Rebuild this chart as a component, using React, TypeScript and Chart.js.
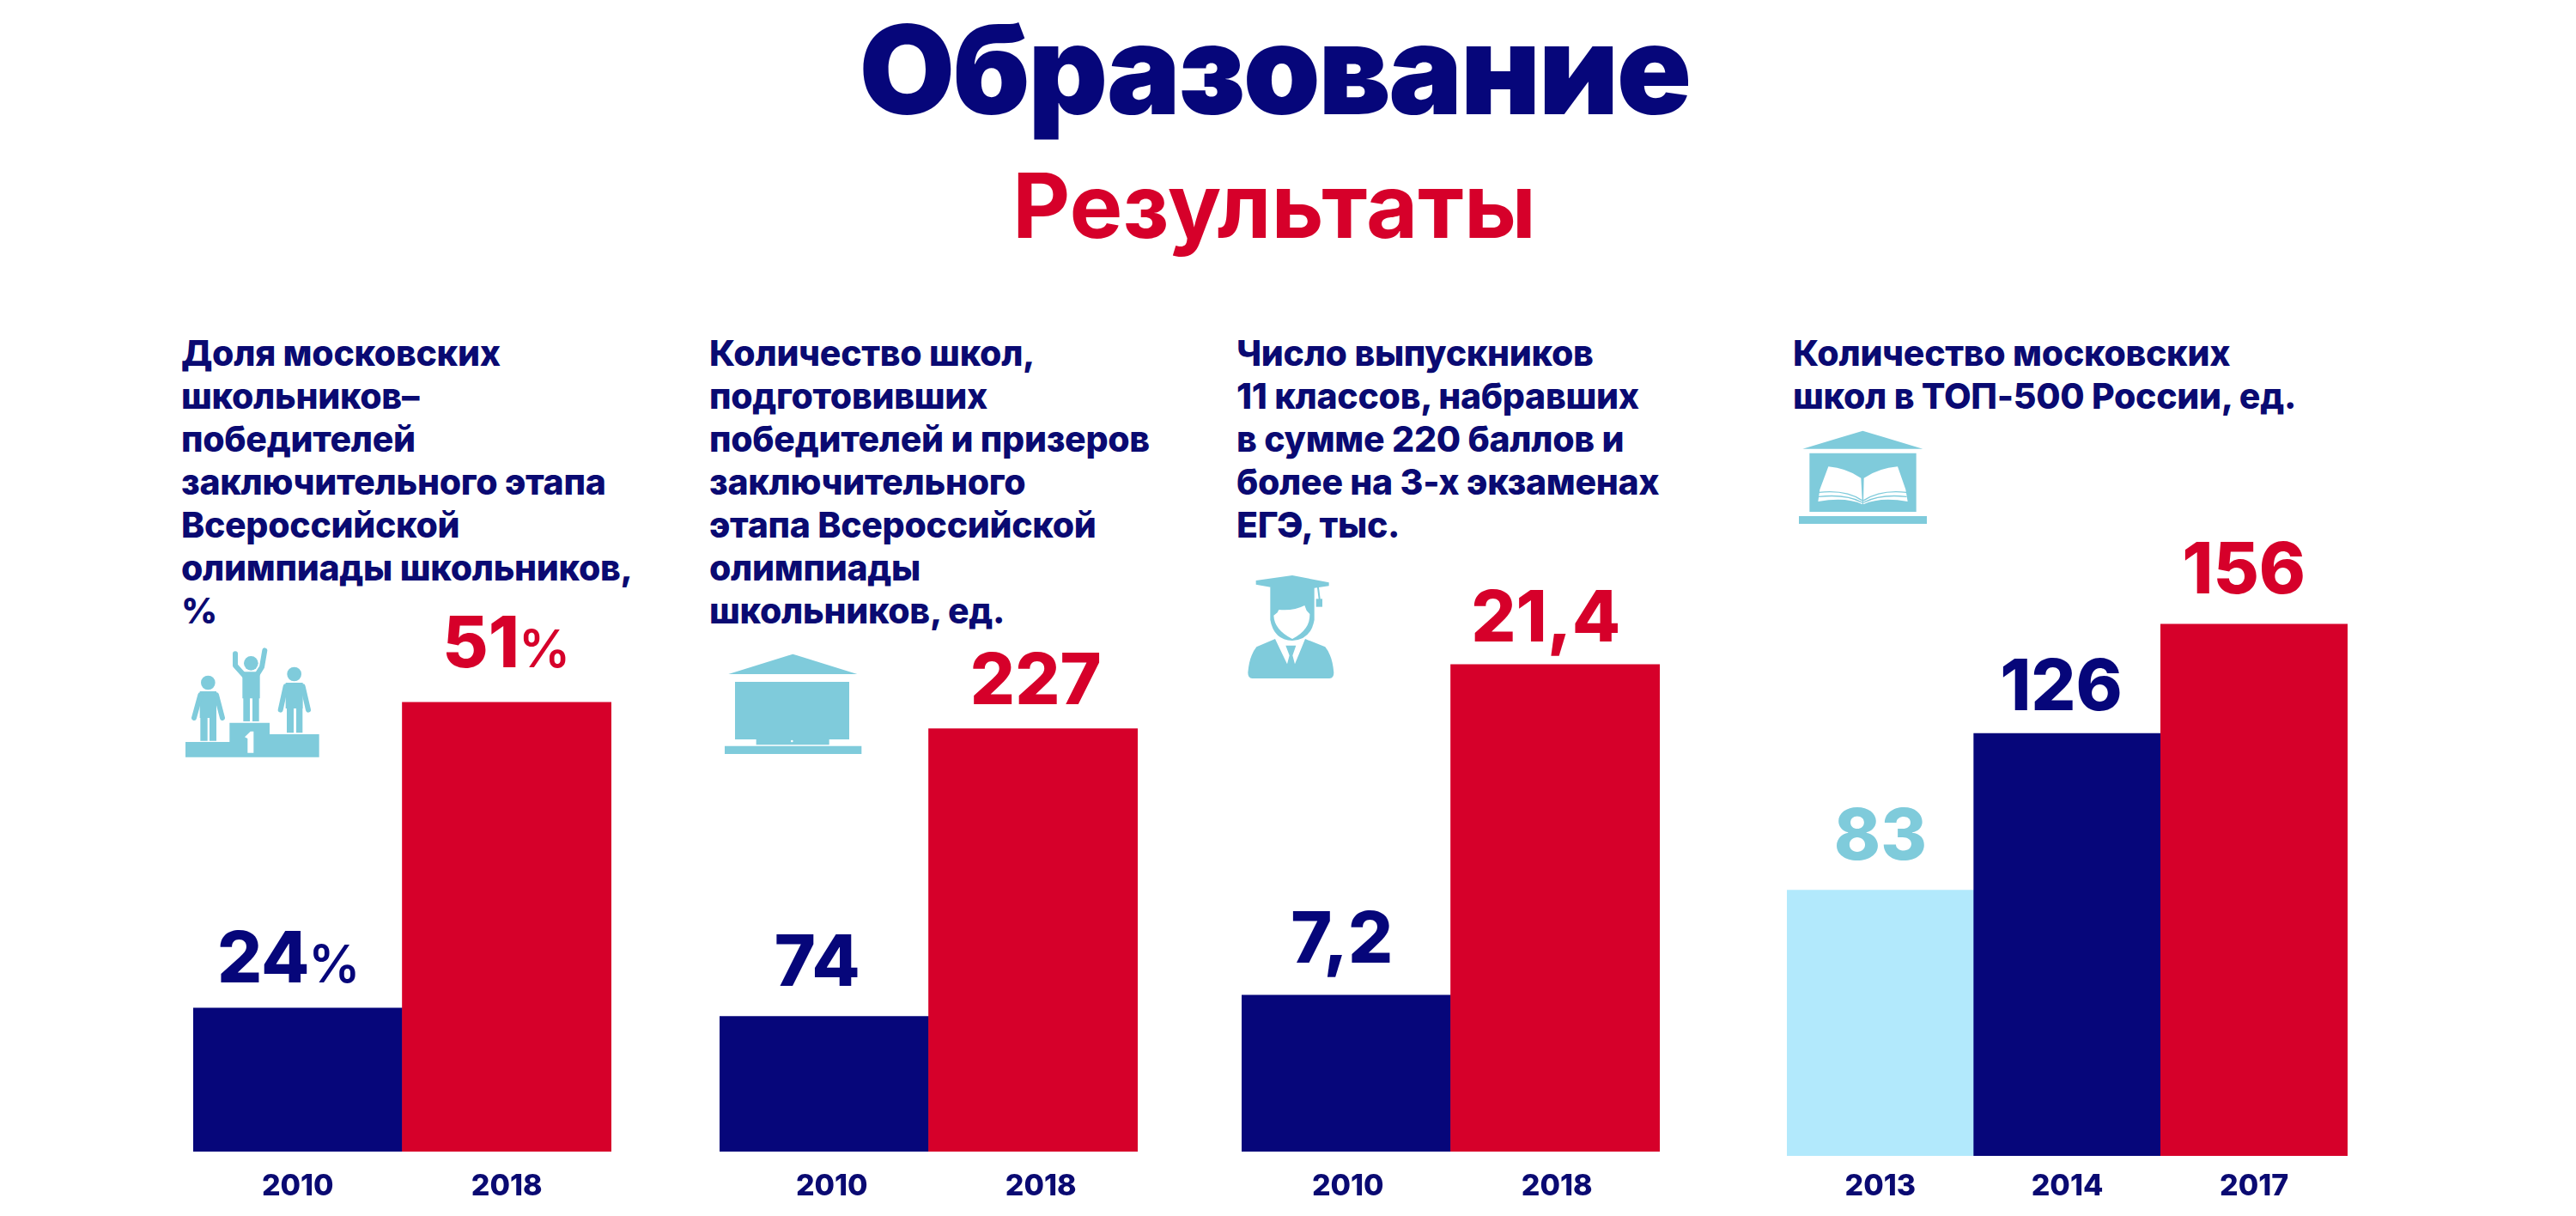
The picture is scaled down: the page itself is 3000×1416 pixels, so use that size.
import React, { useEffect, useRef } from "react";
import { Chart, registerables } from "chart.js";

Chart.register(...registerables);

const NAVY = "#06067A";
const RED = "#D6002A";
const SKY = "#B2E9FC";
const TEAL = "#7FCBDB";
const TEXT_NAVY = "#0A0A72";
const FONT = "Inter, 'Noto Sans', sans-serif";

const mainTitle = "Образование";
const subTitle = "Результаты";

const years1 = ["2010", "2018"];
const values1 = [24, 51];
const labels1 = ["24%", "51%"];
const heading1 = ["Доля московских", "школьников–", "победителей", "заключительного этапа", "Всероссийской", "олимпиады школьников,", "%"];

const years2 = ["2010", "2018"];
const values2 = [74, 227];
const labels2 = ["74", "227"];
const heading2 = ["Количество школ,", "подготовивших", "победителей и призеров", "заключительного", "этапа Всероссийской", "олимпиады", "школьников, ед."];

const years3 = ["2010", "2018"];
const values3 = [7.2, 21.4];
const labels3 = ["7,2", "21,4"];
const heading3 = ["Число выпускников", "11 классов, набравших", "в сумме 220 баллов и", "более на 3-х экзаменах", "ЕГЭ, тыс."];

const years4 = ["2013", "2014", "2017"];
const values4 = [83, 126, 156];
const labels4 = ["83", "126", "156"];
const heading4 = ["Количество московских", "школ в ТОП-500 России, ед."];

const CANVAS_TOP = 600;
const PAGE_H = 1416;

type Panel = {
  years: string[]; values: number[]; labels: string[]; heading: string[];
  left: number; right: number; base: number; min: number; max: number;
  colors: string[]; labelColors: string[]; dx: number[]; gap: number[];
  labelOffset: number; headX: number; tickPad: number;
};

const panels: Panel[] = [
  { years: years1, values: values1, labels: labels1, heading: heading1, left: 225, right: 712, base: 1341, min: 11.33, max: 67.53,
    colors: [NAVY, RED], labelColors: [NAVY, RED], dx: [-10, 0], gap: [30, 41], labelOffset: 0, headX: 211, tickPad: 20 },
  { years: years2, values: values2, labels: labels2, heading: heading2, left: 838, right: 1325, base: 1341, min: 2.1, max: 340.6,
    colors: [NAVY, RED], labelColors: [NAVY, RED], dx: [-8, 3], gap: [36, 29], labelOffset: 9, headX: 826, tickPad: 20 },
  { years: years3, values: values3, labels: labels3, heading: heading3, left: 1446, right: 1933, base: 1341, min: 0.48, max: 27.81,
    colors: [NAVY, RED], labelColors: [NAVY, RED], dx: [-5, -11], gap: [38, 27], labelOffset: 2, headX: 1440, tickPad: 20 },
  { years: years4, values: values4, labels: labels4, heading: heading4, left: 2081, right: 2734, base: 1346, min: 10.1, max: 185.9,
    colors: [SKY, NAVY, RED], labelColors: [TEAL, NAVY, RED], dx: [0, -7, -12], gap: [36, 27, 36], labelOffset: 0, headX: 2088, tickPad: 15 },
];

const valueLabelPlugin = {
  id: "valueLabels",
  afterDatasetsDraw(chart: any, _a: any, opts: any) {
    const { ctx } = chart;
    const meta = chart.getDatasetMeta(0);
    ctx.save();
    ctx.textBaseline = "alphabetic";
    ctx.textAlign = "left";
    meta.data.forEach((bar: any, i: number) => {
      const text: string = opts.labels[i];
      const hasPct = text.endsWith("%");
      const main = hasPct ? text.slice(0, -1) : text;
      const mainFont = `800 82px ${FONT}`;
      const pctFont = `600 60px ${FONT}`;
      ctx.font = mainFont;
      const w1 = ctx.measureText(main).width;
      ctx.font = pctFont;
      const w2 = hasPct ? ctx.measureText("%").width : 0;
      const x = bar.x + opts.dx[i] - (w1 + w2) / 2;
      const y = bar.y - opts.gap[i];
      ctx.fillStyle = opts.colors[i];
      ctx.font = mainFont;
      ctx.fillText(main, x, y);
      if (hasPct) {
        ctx.font = pctFont;
        ctx.fillText("%", x + w1 - 1, y);
      }
    });
    ctx.restore();
  },
};

function BarPanel({ p }: { p: Panel }) {
  const ref = useRef<HTMLCanvasElement | null>(null);
  useEffect(() => {
    const chart = new Chart(ref.current as HTMLCanvasElement, {
      type: "bar",
      data: {
        labels: p.years,
        datasets: [{ data: p.values, backgroundColor: p.colors, borderWidth: 0, barPercentage: 1, categoryPercentage: 1 }],
      },
      plugins: [valueLabelPlugin],
      options: {
        animation: false,
        responsive: false,
        devicePixelRatio: 1,
        layout: { padding: 0 },
        plugins: {
          legend: { display: false },
          title: { display: false },
          tooltip: { enabled: false },
          valueLabels: { labels: p.labels, colors: p.labelColors, dx: p.dx, gap: p.gap },
        },
        scales: {
          x: {
            grid: { display: false, drawTicks: false },
            border: { display: false },
            afterFit: (s: any) => { s.height = PAGE_H - p.base; },
            ticks: {
              color: TEXT_NAVY,
              font: { family: FONT, size: 34, weight: "800" },
              padding: p.tickPad,
              maxRotation: 0,
              autoSkip: false,
              labelOffset: p.labelOffset,
            },
          },
          y: { display: false, min: p.min, max: p.max },
        },
      } as any,
    });
    return () => chart.destroy();
  }, [p]);
  return (
    <canvas
      ref={ref}
      width={p.right - p.left}
      height={PAGE_H - CANVAS_TOP}
      style={{ position: "absolute", left: p.left, top: CANVAS_TOP, display: "block" }}
    />
  );
}

function Heading({ lines, x }: { lines: string[]; x: number }) {
  return (
    <div style={{ position: "absolute", left: x, top: 386, color: TEXT_NAVY, font: `800 41px/50px ${FONT}`, whiteSpace: "nowrap", letterSpacing: "-0.3px" }}>
      {lines.map((l, i) => <div key={i}>{l}</div>)}
    </div>
  );
}

function Icon({ x, y, w, h, children }: { x: number; y: number; w: number; h: number; children: React.ReactNode }) {
  return (
    <svg width={w} height={h} viewBox={`0 0 ${w * 3} ${h * 3}`} style={{ position: "absolute", left: x, top: y }} fill={TEAL}>
      {children}
    </svg>
  );
}

const armStyle = { fill: "none", stroke: TEAL, strokeWidth: 18, strokeLinecap: "round" as const, strokeLinejoin: "round" as const };

export default function App() {
  return (
    <div style={{ position: "absolute", left: 0, top: 0, width: 3000, height: 1416, background: "#fff", overflow: "hidden" }}>
      <div style={{ position: "absolute", left: -16, width: 3000, top: -4, textAlign: "center", color: NAVY, font: `900 144px/170px ${FONT}`, letterSpacing: "-2.5px" }}>{mainTitle}</div>
      <div style={{ position: "absolute", left: -16, width: 3000, top: 174, textAlign: "center", color: RED, font: `700 104px/130px ${FONT}` }}>{subTitle}</div>

      {panels.map((p, i) => <Heading key={"h" + i} lines={p.heading} x={p.headX} />)}

      <Icon x={190} y={750} w={220} h={150}>
        <path d="M78 342H232V275H372V315H545V395H78Z" />
        <path d="M285 325L305 305H316V380H295V330Z" fill="#fff" />
        <circle cx="157" cy="135" r="25" />
        <path d="M128 165H186V338H162V258H155V338H130V258H128Z" />
        <path d="M130 178L108 258M186 178L207 258" style={armStyle} />
        <circle cx="307" cy="67" r="25" />
        <path d="M277 97H338V190H335V270H312V190H303V270H280V190H277Z" />
        <path d="M252 34V75L285 112M355 22L345 80L325 112" style={armStyle} />
        <circle cx="458" cy="105" r="25" />
        <path d="M428 135H488V225H487V310H465V225H456V310H432V225H428Z" />
        <path d="M428 148L410 230M488 148L507 230" style={armStyle} />
      </Icon>

      <Icon x={820} y={740} w={220} h={150}>
        <path d="M85 135L310 65L535 135Z" />
        <path d="M108 162H507V363H437V382H182V363H108Z" />
        <path d="M72 386H550V414H72Z" />
        <circle cx="307" cy="369" r="4" fill="#fff" />
      </Icon>

      <Icon x={1420} y={650} w={160} h={150}>
        <path d="M128 78L255 60L383 85V97L255 115L128 92Z" />
        <path d="M178 100H332V215Q320 285 255 288Q190 285 178 215Z" />
        <path d="M190 200L203 190L208 180Q260 185 298 165L305 183L316 195Q318 250 255 282Q192 250 190 200Z" fill="#fff" />
        <path d="M344 95L350 142" style={{ ...armStyle, strokeWidth: 6 }} />
        <path d="M338 142H360V170H338Z" />
        <path d="M100 400Q105 340 130 310L195 282L237 370L245 340L232 305H268L256 340L264 370L300 282L370 310Q395 340 400 400Q400 420 385 420H115Q100 420 100 400Z" />
      </Icon>

      <Icon x={2080} y={490} w={180} h={130}>
        <path d="M58 98L268 35L478 98Z" />
        <path d="M82 113H455V318H82Z" />
        <path d="M45 333H492V360H45Z" />
        <path d="M148 160Q210 165 262 200L267 292Q210 265 112 282L118 240Z" fill="#fff" />
        <path d="M390 160Q325 165 272 200L270 292Q330 265 425 282L418 240Z" fill="#fff" />
        <path d="M115 250Q210 240 265 278M115 265Q210 255 265 285M420 250Q330 240 272 278M420 265Q330 255 272 285" style={{ ...armStyle, strokeWidth: 4 }} />
      </Icon>

      {panels.map((p, i) => <BarPanel key={"c" + i} p={p} />)}
    </div>
  );
}
